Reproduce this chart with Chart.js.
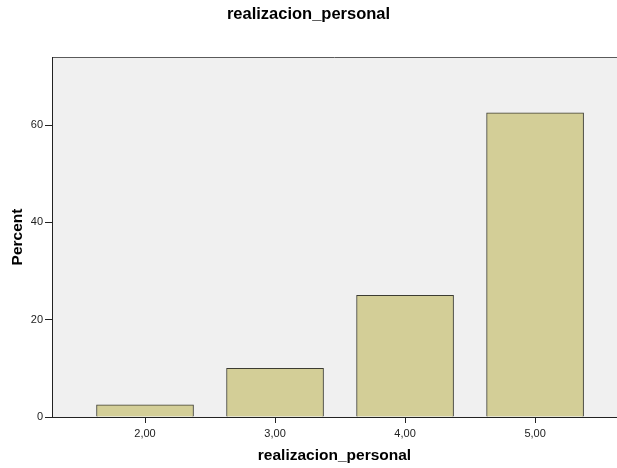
<!DOCTYPE html>
<html>
<head>
<meta charset="utf-8">
<script src="https://cdn.jsdelivr.net/npm/chart.js@4/dist/chart.umd.min.js"></script>
<style>
  html, body { margin: 0; padding: 0; background: #fff; }
  #wrap { width: 617px; height: 468px; }
</style>
</head>
<body>
<div id="wrap"><canvas id="chart" width="617" height="468"></canvas></div>
<script>
const categories = [2, 3, 4, 5];
const percentValues = [2.5, 10, 25, 62.5];
const yTicks = [0, 20, 40, 60];

const FONT = "'Liberation Sans', Arial, sans-serif";

// plot background + top frame line
const plotBackground = {
  id: "plotBackground",
  beforeDraw(chart) {
    const { ctx, chartArea } = chart;
    ctx.save();
    ctx.fillStyle = "#ffffff";
    ctx.fillRect(0, 0, chart.width, chart.height);
    ctx.fillStyle = "#f0f0f0";
    ctx.fillRect(chartArea.left, chartArea.top, chartArea.right - chartArea.left, chartArea.bottom - chartArea.top);
    ctx.strokeStyle = "#5a5a5a";
    ctx.lineWidth = 1;
    ctx.beginPath();
    ctx.moveTo(chartArea.left, chartArea.top + 0.5);
    ctx.lineTo(chartArea.right, chartArea.top + 0.5);
    ctx.stroke();
    ctx.restore();
  },
};

const ctx = document.getElementById("chart").getContext("2d");
new Chart(ctx, {
  type: "bar",
  data: {
    datasets: [
      {
        label: "Percent",
        data: categories.map((c, i) => ({ x: c, y: percentValues[i] })),
        backgroundColor: "#d3ce97",
        borderColor: "#3c3c32",
        borderWidth: 1,
        barThickness: 97,
      },
    ],
  },
  options: {
    responsive: false,
    animation: false,
    layout: { padding: 0 },
    plugins: {
      legend: { display: false },
      tooltip: { enabled: false },
      title: {
        display: true,
        text: "realizacion_personal",
        color: "#000",
        font: { family: FONT, size: 16.5, weight: "bold" },
        padding: { top: 4.1, bottom: 33.1 },
      },
    },
    scales: {
      x: {
        type: "linear",
        min: 1.2846,
        max: 5.63,
        offset: false,
        afterFit(scale) { scale.height = 51; },
        afterBuildTicks(scale) { scale.ticks = categories.map(v => ({ value: v })); },
        ticks: {
          color: "#222",
          font: { family: FONT, size: 11 },
          padding: 4,
          maxRotation: 0,
          callback: v => v.toFixed(2).replace(".", ","),
        },
        grid: { display: true, offset: false, drawOnChartArea: false, tickLength: 6, color: "#222" },
        border: { display: true, color: "#222" },
        title: {
          display: true,
          text: "realizacion_personal",
          color: "#000",
          font: { family: FONT, size: 15.5, weight: "bold" },
          padding: { top: 0, bottom: 3 },
        },
      },
      y: {
        min: 0,
        max: 74,
        afterFit(scale) { scale.width = 52; },
        afterBuildTicks(scale) { scale.ticks = yTicks.map(v => ({ value: v })); },
        ticks: {
          color: "#222",
          font: { family: FONT, size: 11 },
          padding: 2,
        },
        grid: { display: true, drawOnChartArea: false, tickLength: 7, color: "#222" },
        border: { display: true, color: "#222" },
        title: {
          display: true,
          text: "Percent",
          color: "#000",
          font: { family: FONT, size: 15.5, weight: "bold" },
          padding: { top: 8.7, bottom: 0 },
        },
      },
    },
  },
  plugins: [plotBackground],
});
</script>
</body>
</html>
